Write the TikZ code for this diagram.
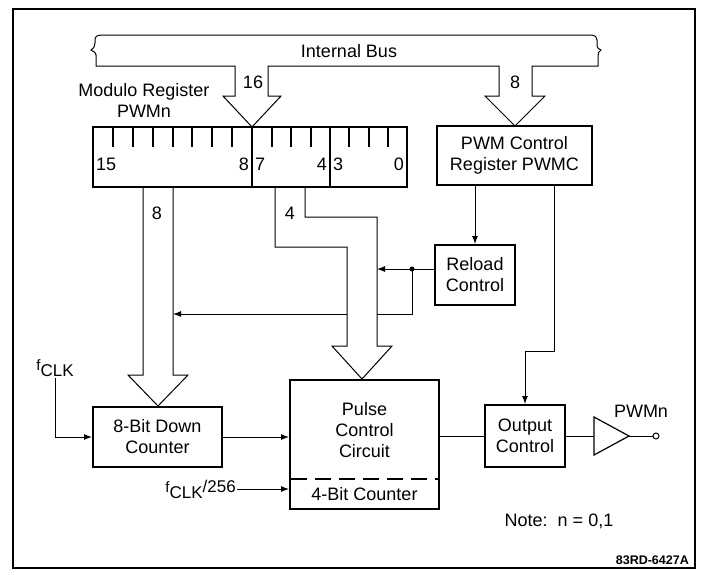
\documentclass[tikz,border=0pt]{standalone}
\usepackage{fontspec}
\setmainfont{Liberation Sans}
\usetikzlibrary{arrows.meta,calc}

\newcommand{\dgmfont}{\fontsize{18}{21}\selectfont}
\newcommand{\clkfont}{\fontsize{17}{17}\selectfont}
\tikzset{
  blk/.style={draw, line width=2pt, inner sep=0pt, align=center, font=\dgmfont},
  txt/.style={inner sep=1pt, align=center, font=\dgmfont},
  wire/.style={line width=1pt},
  arr/.style={wire, -{Latex[length=8pt,width=6pt]}},
  busline/.style={line width=1pt, fill=white},
}

\begin{document}
\begin{tikzpicture}[x=1pt,y=-1pt]
\useasboundingbox (0,0) rectangle (704,574);

% ===== Frame =====
\draw[line width=1.5pt] (13,9) rectangle (695,568);

% ===== Internal bus =====
\draw[busline] (235,66) -- (96,66) -- (96,55) .. controls (96,52) and (92,51) .. (91,50)
  .. controls (94,48) and (95,46) .. (95,43) -- (95,39) .. controls (95,37) and (97,35) .. (100,35)
  -- (592,35) .. controls (595,35) and (597,37) .. (597,40) -- (597,46)
  .. controls (597,48) and (599,49) .. (601,50) .. controls (599,51) and (598,53) .. (598,56)
  -- (598,66) -- (532,66) -- (532,96) -- (545,96) -- (515,126) -- (485,96) -- (499,96)
  -- (499,66) -- (268,66) -- (268,96) -- (281,96) -- (252,127) -- (223,96) -- (235,96) -- cycle;
\node[txt] (busname) at (349,51) {Internal Bus};
\node[txt] (w16) at (253,82) {16};
\node[txt] (w8top) at (515,82) {8};

% ===== Modulo register =====
\node[txt] (modname) at (144,100) {Modulo Register\\PWMn};
\node[blk, minimum width=314, minimum height=60] (reg) at (250,157) {};
\foreach \x in {252,330} {
    \draw[line width=2pt] (\x,127) -- (\x,187);
}
\foreach \x in {113,133,153,173,192,212,232,272,291,311,349,369,388} {
    \draw[line width=1.6pt] (\x,127) -- (\x,147);
}
\node[txt, anchor=west] (b15) at (95,164) {15};
\node[txt, anchor=east] (b8) at (250,164) {8};
\node[txt, anchor=west] (b7) at (254,164) {7};
\node[txt, anchor=east] (b4) at (328,164) {4};
\node[txt, anchor=west] (b3) at (332,164) {3};
\node[txt, anchor=east] (b0) at (405,164) {0};

% ===== Blocks =====
\node[blk, minimum width=155, minimum height=59] (pwmc) at (514.5,155.5) {PWM Control\\Register PWMC};
\node[blk, minimum width=80, minimum height=60] (reload) at (475,275) {Reload\\Control};
\node[blk, minimum width=129, minimum height=60] (down) at (157.5,437) {8-Bit Down\\Counter};
\node[blk, minimum width=149, minimum height=129] (pulse) at (364.5,444.5) {};
\node[txt] (pulsename) at (364.5,430) {Pulse\\Control\\Circuit};
\node[txt] (cnt4) at (364.5,494) {4-Bit Counter};
\draw[line width=2pt, dash pattern=on 16pt off 8pt] (291,479) -- (438,479);
\node[blk, minimum width=80, minimum height=62] (outc) at (525,436) {Output\\Control};

% ===== 8-bit bus =====
\draw[busline] (143,188) -- (143,375) -- (128,375) -- (158,406) -- (188,375) -- (173,375) -- (173,188);
\node[txt] (w8) at (157,213) {8};

% ===== Reload lines =====
\coordinate (dot) at (412,269);
\coordinate (b4r) at (377,269);
\coordinate (b8r) at (173,314);
\draw[wire] (dot -| reload.west) -- (dot);
\draw[arr] (dot) -- (b4r);
\draw[arr] (dot) |- (b8r);
\fill (dot) circle (2.5pt);

% ===== 4-bit bus =====
\draw[busline] (275,188) -- (275,247) -- (347,247) -- (347,346) -- (332,346) -- (362,379)
  -- (392,346) -- (377,346) -- (377,217) -- (305,217) -- (305,188);
\node[txt] (w4) at (290,213) {4};

% ===== Clocks =====
\node[txt, font=\clkfont] (fclk) at (55,368) {{\fontsize{15}{15}\selectfont f}\raisebox{-6pt}{CLK}};
\draw[arr] (fclk.south) |- (down.west);
\node[txt, anchor=east, font=\clkfont] (f256) at (237,489) {{\fontsize{15}{15}\selectfont f}\raisebox{-6pt}{CLK}/256};
\draw[arr] (f256.east) -- (f256.east -| pulse.west);

% ===== Connections =====
\draw[arr] (down.east) -- (down.east -| pulse.west);
\draw[wire] (outc.west -| pulse.east) -- (outc.west);
\draw[arr] (reload.north |- pwmc.south) -- (reload.north);
\draw[arr] ($(pwmc.south)+(40,0)$) -- ++(0,165) -| (outc.north);

% ===== Output buffer =====
\coordinate (bufin) at (594,436);
\coordinate (bufout) at (629,436);
\draw[line width=1.2pt] (594,417) -- (bufout) -- (594,455) -- cycle;
\draw[wire] (outc.east) -- (bufin);
\node[draw, circle, line width=1pt, minimum size=6pt, inner sep=0pt] (pin) at (656,436) {};
\draw[wire] (bufout) -- (pin.west);
\node[txt] (pinname) at (641,411) {PWMn};

% ===== Notes =====
\node[txt] (note) at (559,521) {Note:\ \ n = 0,1};
\node[txt, anchor=east, font=\bfseries\fontsize{12.5}{13}\selectfont] (figid) at (690,560) {83RD-6427A};

\end{tikzpicture}
\end{document}
